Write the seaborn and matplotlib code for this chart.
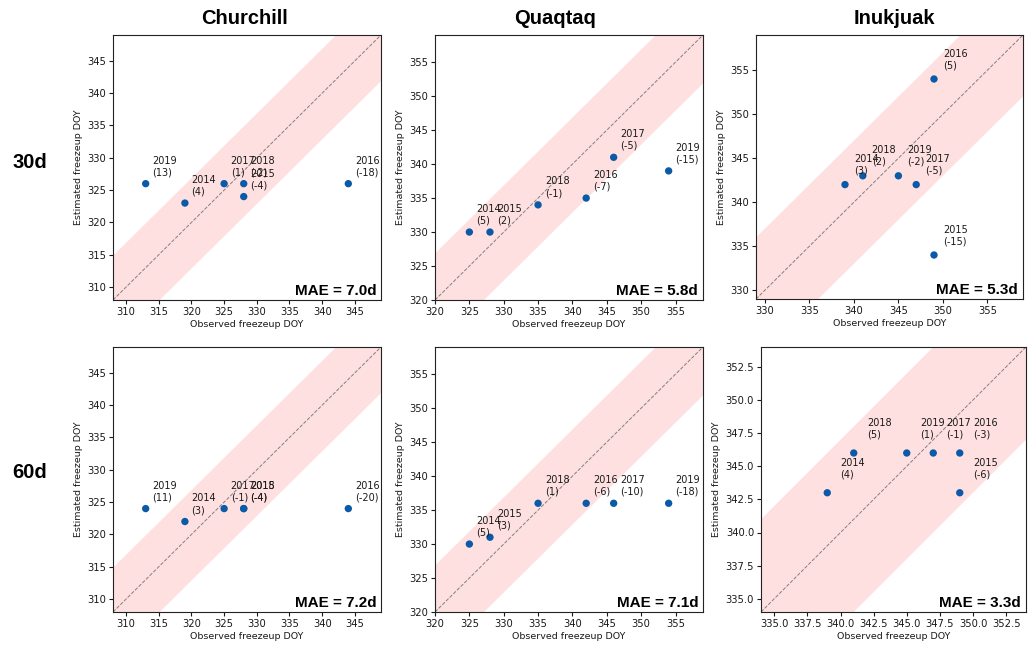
import numpy as np
import pandas as pd
import matplotlib
matplotlib.use("Agg")
import matplotlib.pyplot as plt
import seaborn as sns
from matplotlib.ticker import MultipleLocator, FormatStrFormatter

# ---- data -------------------------------------------------------------
years = [2014, 2015, 2016, 2017, 2018, 2019]
sites = ["Churchill", "Quaqtaq", "Inukjuak"]
leads = ["30d", "60d"]

obs_churchill = [319, 328, 344, 325, 328, 313]
obs_quaqtaq = [325, 328, 342, 346, 335, 354]
obs_inukjuak = [339, 349, 349, 347, 341, 345]

est_churchill_30d = [323, 324, 326, 326, 326, 326]
est_quaqtaq_30d = [330, 330, 335, 341, 334, 339]
est_inukjuak_30d = [342, 334, 354, 342, 343, 343]

est_churchill_60d = [322, 324, 324, 324, 324, 324]
est_quaqtaq_60d = [330, 331, 336, 336, 336, 336]
est_inukjuak_60d = [343, 343, 346, 346, 346, 346]

mae_30d = [7.0, 5.8, 5.3]
mae_60d = [7.2, 7.1, 3.3]

tick_step_30d = [5, 5, 5]
tick_step_60d = [5, 5, 2.5]

tolerance_days = 7

# ---- style ------------------------------------------------------------
sns.set_theme(style="ticks")
plt.rcParams["font.family"] = ["DejaVu Sans"]
plt.rcParams["axes.edgecolor"] = "#222222"
plt.rcParams["axes.linewidth"] = 0.8

W, H = 1029, 645
fig = plt.figure(figsize=(W / 100, H / 100), dpi=100)

point_color = "#0b5aa8"
text_color = "#1a1a1a"

observed = [obs_churchill, obs_quaqtaq, obs_inukjuak]
estimated = [
    [est_churchill_30d, est_quaqtaq_30d, est_inukjuak_30d],
    [est_churchill_60d, est_quaqtaq_60d, est_inukjuak_60d],
]
maes = [mae_30d, mae_60d]
steps = [tick_step_30d, tick_step_60d]

# panel boxes in pixels: (left, top, right, bottom)
boxes = [
    [(113, 35, 381, 300), (435, 35, 703, 300), (756, 35, 1023, 299)],
    [(113, 347, 381, 612), (435, 347, 703, 612), (761, 347, 1026, 612)],
]


def add_panel(box):
    l, t, r, b = box
    return fig.add_axes([l / W, 1 - b / H, (r - l) / W, (b - t) / H])


for row in range(2):
    for col in range(3):
        ax = add_panel(boxes[row][col])
        obs = np.array(observed[col])
        est = np.array(estimated[row][col])
        df = pd.DataFrame({"year": years, "observed": obs, "estimated": est})

        lo = min(obs.min(), est.min()) - 5
        hi = max(obs.max(), est.max()) + 5

        # tolerance band and 1:1 line
        xs = np.array([lo - 20, hi + 20])
        ax.fill_between(xs, xs - tolerance_days, xs + tolerance_days,
                        color="red", alpha=0.12, linewidth=0, zorder=0)
        ax.plot([lo, hi], [lo, hi], ls="--", color="gray", lw=0.7, zorder=1)

        sns.scatterplot(data=df, x="observed", y="estimated", ax=ax,
                        color=point_color, s=28, edgecolor="none", zorder=3)

        for yr, xo, ye in zip(years, obs, est):
            ax.text(xo + 1, ye + 1, f"{yr}\n({ye - xo})", fontsize=7,
                    color=text_color, ha="left", va="bottom", zorder=4)

        ax.text(0.982, 0.02, f"MAE = {maes[row][col]:.1f}d",
                transform=ax.transAxes, ha="right", va="baseline",
                fontsize=11, fontweight="bold", family="Liberation Sans",
                color="black")

        ax.set_xlim(lo, hi)
        ax.set_ylim(lo, hi)
        step = steps[row][col]
        ax.xaxis.set_major_locator(MultipleLocator(step))
        ax.yaxis.set_major_locator(MultipleLocator(step))
        fmt = "%.1f" if step % 1 else "%d"
        ax.xaxis.set_major_formatter(FormatStrFormatter(fmt))
        ax.yaxis.set_major_formatter(FormatStrFormatter(fmt))
        ax.tick_params(length=3, width=0.8, pad=2, labelsize=7.2,
                       colors=text_color)
        ax.set_xlabel("Observed freezeup DOY", fontsize=6.8, labelpad=2,
                      color=text_color)
        ax.set_ylabel("Estimated freezeup DOY", fontsize=6.8, labelpad=3,
                      color=text_color)
        for sp in ax.spines.values():
            sp.set_visible(True)

# column titles and row labels
title_x = [244, 555, 894]
for name, x in zip(sites, title_x):
    fig.text(x / W, 1 - 19 / H, name, ha="center", va="center",
             fontsize=14.5, fontweight="bold", family="Liberation Sans",
             color="black")

row_y = [163, 473]
for lead, y in zip(leads, row_y):
    fig.text(30 / W, 1 - y / H, lead, ha="center", va="center",
             fontsize=14.5, fontweight="bold", family="Liberation Sans",
             color="black")

fig.savefig("out.png", dpi=100)
